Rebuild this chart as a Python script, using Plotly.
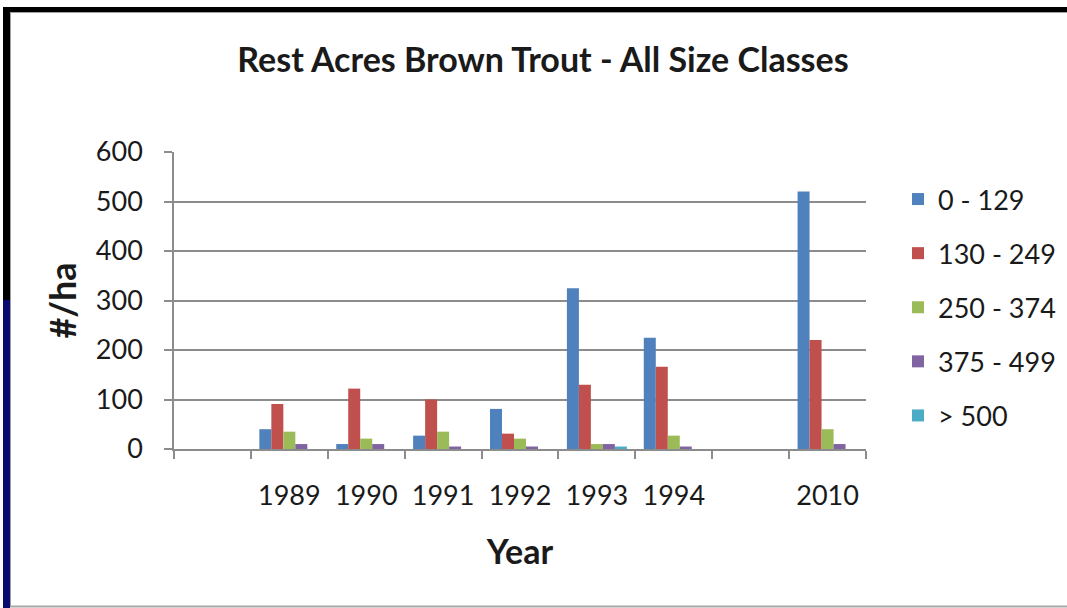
import plotly.graph_objects as go

categories = [" ", "1989", "1990", "1991", "1992", "1993", "1994", "  ", "2010"]
series_names = ["0 - 129", "130 - 249", "250 - 374", "375 - 499", "> 500"]
s_0_129   = [None, 40, 10, 27, 81, 325, 225, None, 520]
s_130_249 = [None, 91, 122, 100, 31, 130, 166, None, 220]
s_250_374 = [None, 35, 21, 35, 21, 10, 27, None, 40]
s_375_499 = [None, 10, 10, 5, 5, 10, 5, None, 10]
s_500     = [None, 0, 0, 0, 0, 5, 0, None, 0]
colors = ["#4F81BD", "#C0504D", "#9BBB59", "#8064A2", "#4BACC6"]
y_ticks = [0, 100, 200, 300, 400, 500, 600]

W, H = 1067, 608
L, R, T, B = 174, 866, 152, 449
FONT = "Lato, 'Open Sans', sans-serif"
TXT = "#1a1a1a"

def px(x):
    return (x - L) / (R - L)

def py(y):
    return (B - y) / (B - T)

fig = go.Figure()
for i, (name, vals) in enumerate(zip(series_names, [s_0_129, s_130_249, s_250_374, s_375_499, s_500])):
    fig.add_trace(go.Bar(
        x=categories, y=vals, name=name, legendgroup=name,
        marker=dict(color=colors[i], line=dict(width=0)),
    ))

fig.update_layout(
    width=W, height=H,
    margin=dict(l=L, r=W - R, t=T, b=H - B, autoexpand=False),
    paper_bgcolor="white", plot_bgcolor="white",
    barmode="group", bargap=0.22, bargroupgap=0,
    font=dict(family=FONT, color=TXT),
    title=dict(text="<b>Rest Acres Brown Trout - All Size Classes</b>",
               x=(543 / W), xanchor="center", y=1 - 60 / H, yanchor="middle",
               font=dict(size=34, family=FONT, color=TXT)),
    legend=dict(x=px(898), xanchor="left", y=py(175), yanchor="top",
                font=dict(size=27, family=FONT, color=TXT),
                tracegroupgap=16, bgcolor="rgba(0,0,0,0)", itemwidth=30),
    showlegend=True,
)
fig.update_xaxes(
    type="category", categoryorder="array", categoryarray=categories,
    range=[-0.5, len(categories) - 0.5],
    showline=True, linecolor="#8c8c8c", linewidth=1.5,
    ticks="outside", tickson="boundaries", ticklen=8, tickcolor="#8c8c8c", tickwidth=1.5,
    tickfont=dict(size=27, family=FONT, color=TXT), ticklabelstandoff=22,
    showgrid=False, automargin=False,
    title=dict(text="<b>Year</b>", font=dict(size=34, family=FONT, color=TXT), standoff=30),
)
fig.update_yaxes(
    range=[0, 600], tickvals=y_ticks,
    showline=True, linecolor="#8c8c8c", linewidth=1.5,
    ticks="outside", ticklen=8, tickcolor="#8c8c8c", tickwidth=1.5,
    showgrid=True, gridcolor="#8c8c8c", gridwidth=1.5, zeroline=False,
    tickfont=dict(size=27, family=FONT, color=TXT), ticklabelstandoff=16,
    automargin=False,
    title=dict(text="<b>#/ha</b>", font=dict(size=36, family=FONT, color=TXT), standoff=8),
)

# frame around the picture
shapes = [
    dict(type="rect", xref="paper", yref="paper", x0=px(3), x1=px(1067), y0=py(12), y1=py(7),
         fillcolor="black", line=dict(width=0), layer="above"),
    dict(type="rect", xref="paper", yref="paper", x0=px(3), x1=px(10), y0=py(300), y1=py(7),
         fillcolor="black", line=dict(width=0), layer="above"),
    dict(type="rect", xref="paper", yref="paper", x0=px(3), x1=px(10), y0=py(608), y1=py(300),
         fillcolor="#0a0a6e", line=dict(width=0), layer="above"),
    dict(type="line", xref="paper", yref="paper", x0=px(10.5), x1=px(10.5), y0=py(606), y1=py(12),
         line=dict(color="#a0a0a0", width=1), layer="above"),
    dict(type="line", xref="paper", yref="paper", x0=px(10), x1=px(1067), y0=py(606.5), y1=py(606.5),
         line=dict(color="#a8a8a8", width=2), layer="above"),
    dict(type="line", xref="paper", yref="paper", x0=px(10), x1=px(1067), y0=py(12.5), y1=py(12.5),
         line=dict(color="#a0a0a0", width=1), layer="above"),
]
fig.update_layout(shapes=shapes)

fig.write_html("out.html", config={"displayModeBar": False},
               post_script="document.body.style.margin='0';document.body.style.overflow='hidden';")
